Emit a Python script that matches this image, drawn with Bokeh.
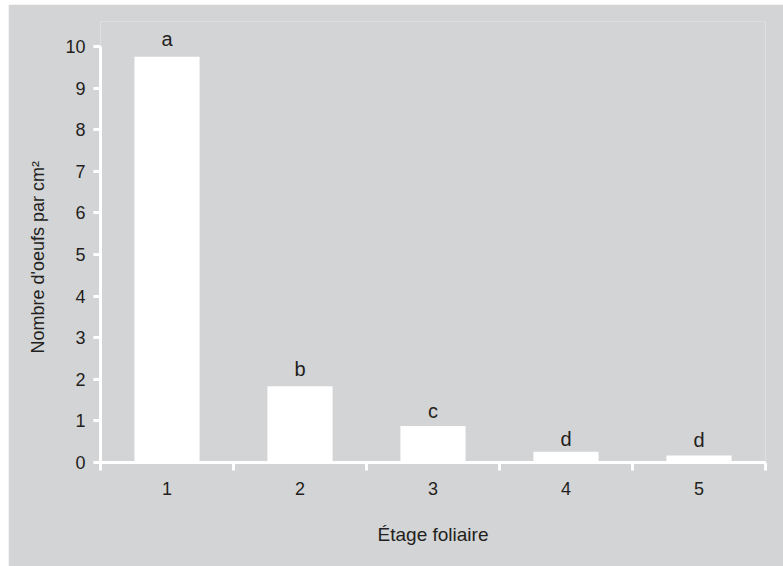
from bokeh.plotting import figure
from bokeh.models import ColumnDataSource, FixedTicker, Range1d, Title
from bokeh.core.properties import value
from bokeh.embed import file_html
from bokeh.resources import INLINE

# data
stages = [1, 2, 3, 4, 5]
stage_labels = ["1", "2", "3", "4", "5"]
eggs = [9.75, 1.83, 0.88, 0.26, 0.17]
letters = ["a", "b", "c", "d", "d"]
letter_y = [10.0, 2.08, 1.07, 0.40, 0.37]
y_ticks = [0, 1, 2, 3, 4, 5, 6, 7, 8, 9, 10]
x_title = "Étage foliaire"
y_title = "Nombre d'oeufs par cm²"

BG = "#d3d4d6"
TXT = "#231f20"
FONT = "Liberation Sans"

p = figure(width=775, height=562, output_backend="svg", toolbar_location=None,
           x_range=Range1d(0.5, 5.5), y_range=Range1d(0, 10.6),
           min_border_left=92, min_border_right=18, min_border_top=17,
           min_border_bottom=104)
p.margin = (4, 0, 0, 8)
p.background_fill_color = BG
p.border_fill_color = BG
p.outline_line_color = None
p.grid.visible = False

src = ColumnDataSource(dict(x=stages, top=eggs, lab=letters, ly=letter_y))
p.vbar(x="x", top="top", bottom=0, width=0.49, source=src,
       fill_color="white", line_color=None)
p.text(x="x", y="ly", text="lab", source=src, text_align="center",
       text_baseline="alphabetic", text_font=value(FONT), text_font_size="20px",
       text_color=TXT, y_offset=-7)

# x axis
xa = p.xaxis[0]
xa.ticker = FixedTicker(ticks=stages, minor_ticks=[0.5, 1.5, 2.5, 3.5, 4.5, 5.5])
xa.major_label_overrides = {s: l for s, l in zip(stages, stage_labels)}
xa.major_tick_out = 0
xa.major_tick_in = 0
xa.minor_tick_out = 8
xa.minor_tick_in = 0
xa.minor_tick_line_color = "white"
xa.minor_tick_line_width = 3
xa.axis_line_color = "white"
xa.axis_line_width = 3
xa.major_label_standoff = 11
xa.axis_label = x_title
xa.axis_label_standoff = 26

# y axis
ya = p.yaxis[0]
ya.ticker = FixedTicker(ticks=y_ticks, minor_ticks=[])
ya.bounds = (0, 10)
ya.major_tick_out = 7
ya.major_tick_in = 0
ya.major_tick_line_color = "white"
ya.major_tick_line_width = 3
ya.axis_line_color = "white"
ya.axis_line_width = 3
ya.major_label_standoff = 8

for ax in (xa, ya):
    ax.major_label_text_font = FONT
    ax.major_label_text_font_size = "18px"
    ax.major_label_text_color = TXT
    ax.axis_label_text_font = FONT
    ax.axis_label_text_font_size = "19px"
    ax.axis_label_text_font_style = "normal"
    ax.axis_label_text_color = TXT

# y title as a left-side title so it can be shifted along the axis
yt = Title(text=y_title, align="left", offset=109, standoff=30,
           text_font=FONT, text_font_size="18px", text_font_style="normal",
           text_color=TXT)
p.add_layout(yt, "left")

open("out.html", "w").write(file_html(p, INLINE))
